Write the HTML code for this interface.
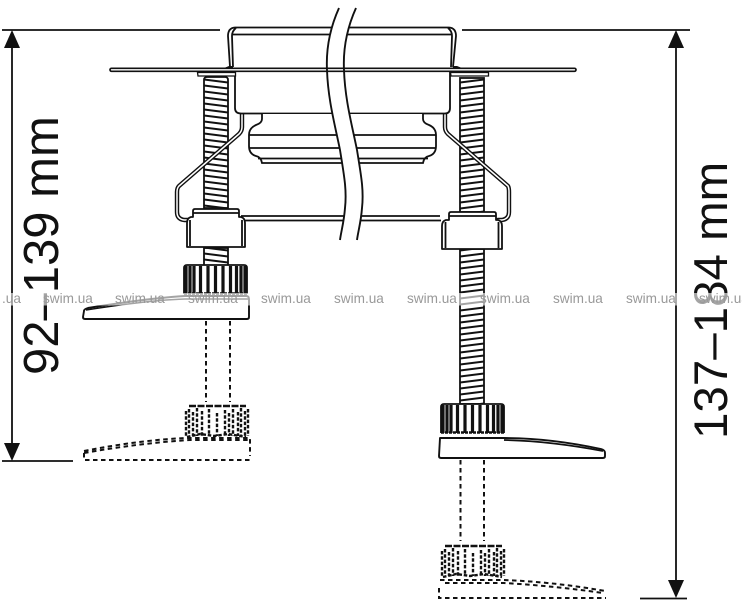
<!DOCTYPE html>
<html><head><meta charset="utf-8"><style>
html,body{margin:0;padding:0;background:#fff;width:742px;height:600px;overflow:hidden}
svg{display:block}
text{font-family:"Liberation Sans",sans-serif}
</style></head><body>
<svg width="742" height="600" viewBox="0 0 742 600" xmlns="http://www.w3.org/2000/svg">
<defs>
<pattern id="tL" patternUnits="userSpaceOnUse" x="204" y="0" width="24" height="6"><path d="M0 1.500L24 4.500" stroke="#111" stroke-width="2"/></pattern>
<pattern id="tR" patternUnits="userSpaceOnUse" x="460" y="0" width="24" height="6"><path d="M0 4.500L24 1.500" stroke="#111" stroke-width="2"/></pattern>
<g id="knob">
<path d="M0 29V3Q0 0 3 0H60Q63 0 63 3V29" fill="#fff" stroke="#111" stroke-width="1.800"/>
<path d="M2 1V29M6 1V29M10 1V29M16.500 1V29M24 1V29M31.500 1V29M39 1V29M46.500 1V29M52.500 1V29M57 1V29M61 1V29" stroke="#111" stroke-width="3.200"/>
<path d="M0 28.500H63" stroke="#111" stroke-width="2.400" stroke-dasharray="3 1"/>
</g>
<g id="dknob" fill="none" stroke="#111" stroke-width="2.400" stroke-dasharray="3.500 1.800">
<path d="M3 1H60" stroke-dasharray="7 1.500"/>
<path d="M0 6V31M3 4V31M7 7V31M11 3V31M16 6V31M23 4V31M31 8V31M39 5V31M43 8V31M47 4V31M52 7V31M55 3V31M59 6V31M62 4V31"/>
<path d="M1 32L14 29L28 31L42 29L60 32"/>
</g>
</defs>

<!-- dimension lines -->
<g stroke="#111" stroke-width="1.800" fill="none">
<path d="M2 30H220M462 30H690"/>
<path d="M2 461H73M640 598.500H687"/>
<path d="M12 40V452M676 40V590"/>
</g>
<g fill="#111">
<path d="M12 30L20 48H4Z"/><path d="M12 461L20 443H4Z"/>
<path d="M676 30L684 48H668Z"/><path d="M676 598L684 580H668Z"/>
</g>
<text transform="translate(58 375) rotate(-90)" font-size="49" fill="#111">92–139 mm</text>
<text transform="translate(727 439) rotate(-90)" font-size="47.500" fill="#111">137–184 mm</text>

<!-- rods -->
<path d="M204 80Q204 77 207 77H225Q228 77 228 80V208H204Z" fill="url(#tL)" stroke="#111" stroke-width="1.800"/>
<rect x="460" y="78" width="24" height="134" fill="url(#tR)" stroke="#111" stroke-width="1.800"/>
<rect x="204" y="248" width="24" height="18" fill="url(#tL)" stroke="#111" stroke-width="1.800"/>
<rect x="460" y="249" width="24" height="155" fill="url(#tR)" stroke="#111" stroke-width="1.800"/>

<!-- clips -->
<g fill="none" stroke-linejoin="round" stroke-linecap="round">
<path d="M242 114V127Q242 131 239 134L179 186Q177 188 177 192V212Q177 219 184 220H188" stroke="#111" stroke-width="4.400"/>
<path d="M242 114V127Q242 131 239 134L179 186Q177 188 177 192V212Q177 219 184 220H188" stroke="#fff" stroke-width="1.500"/>
<path d="M445 114V127Q445 131 448 134L508 186Q509 188 509 192V212Q509 219 502 220H498" stroke="#111" stroke-width="4.400"/>
<path d="M445 114V127Q445 131 448 134L508 186Q509 188 509 192V212Q509 219 502 220H498" stroke="#fff" stroke-width="1.500"/>
</g>

<!-- cup -->
<g fill="none" stroke="#111" stroke-width="1.800">
<path d="M230 67L228 36Q228 28 235 27.500H449Q456 28 456 36L453 67" fill="#fff"/>
<path d="M233 67L232 36Q232 31 236 28M451 67L452 36Q452 31 448 28"/>
<path d="M233 34.500H451"/>
<path d="M235 72V108Q235 113.500 241 113.500H445Q450 113.500 450 108V72" fill="#fff"/>
<path d="M262 114V119Q262 123 256 125Q249 128 249 135V146Q249 154 256 156Q261 157 262 163H423Q424 157 429 156Q436 154 436 146V135Q436 128 429 125Q423 123 423 119V114" fill="#fff"/>
<path d="M249 135H436M249 148H436M258 158.500H428"/>
</g>

<!-- cross bar -->
<path d="M241 216H440M241 220.500H441" stroke="#111" stroke-width="1.700" fill="none"/>

<!-- wave cut: blank between the waves -->
<path d="M339 8C330 28 326 50 327 70C328 100 335 125 340 150C344 175 347 190 345 208C344 222 341 232 340 240H357C358 232 361 222 362 208C364 190 361 175 357 150C352 125 345 100 344 70C343 50 347 28 356 8Z" fill="#fff"/>

<!-- flange -->
<rect x="110" y="68.300" width="466" height="3" rx="1.500" fill="#fff" stroke="#111" stroke-width="1.700"/>
<path d="M197.500 72.500H235.500V76H198Z" fill="#fff" stroke="#111" stroke-width="1.300"/>
<path d="M450.500 72.500H488.500V76H451Z" fill="#fff" stroke="#111" stroke-width="1.300"/>
<path d="M224 68L229 66H233V68ZM462 68L457 66H453V68Z" fill="#111"/>

<!-- waves -->
<g fill="none" stroke="#111" stroke-width="1.900">
<path d="M339 8C330 28 326 50 327 70C328 100 335 125 340 150C344 175 347 190 345 208C344 222 341 232 340 240"/>
<path d="M356 8C347 28 343 50 344 70C345 100 352 125 357 150C361 175 364 190 362 208C361 222 358 232 357 240"/>
</g>

<!-- nuts -->
<g fill="#fff" stroke="#111" stroke-width="1.800" stroke-linejoin="round">
<path d="M187 247V223Q187 218 191 217H193V211Q193 209 195 209H237Q239 209 239 211V217H241Q245 218 245 223V247Z"/>
<path d="M190 246V220M242 246V220M193 213H239" fill="none"/>
<path d="M442 249V226Q442 221 446 220H449V214Q449 212 451 212H494Q496 212 496 214V220H498Q502 221 502 226V249Z"/>
<path d="M445.500 248V222M498.500 248V222M449 216H496" fill="none"/>
</g>

<!-- left knob + foot -->
<use href="#knob" x="184" y="265"/>
<path d="M84 311Q84 309 88 308Q150 298 185 296H246Q249 296 249 299V317Q249 319 247 319H85Q83 319 83 317Z" fill="#fff" stroke="#111" stroke-width="1.900" stroke-linejoin="round"/>
<path d="M86 310Q150 300 185 299H248" fill="none" stroke="#111" stroke-width="1.500"/>

<!-- right knob + foot -->
<use href="#knob" x="441" y="404"/>
<path d="M440 438H504Q550 438 601 449Q605 450 605 453V456Q605 458 603 458H441Q439 458 439 456Z" fill="#fff" stroke="#111" stroke-width="1.900" stroke-linejoin="round"/>
<path d="M504 440Q550 441 603 451" fill="none" stroke="#111" stroke-width="1.800"/>

<!-- dashed parts -->
<g fill="none" stroke="#111" stroke-width="2" stroke-dasharray="4.500 3.500">
<path d="M206 321V402M230 321V402"/>
<path d="M84 451Q140 440 186 438H250V456M84 453Q140 443 190 440H248"/>
<path d="M84 453V460H251"/>
<path d="M460.500 460V541M484 460V541"/>
<path d="M440 580H504Q555 582 605 591M445 583H504Q555 586 603 593"/>
<path d="M439 588V598H606"/>
</g>
<use href="#dknob" x="186" y="405"/>
<use href="#dknob" x="442" y="545"/>

<!-- watermark -->
<rect x="0" y="293" width="742" height="12.500" fill="#fff" opacity=".62"/>
<g font-size="13.600" fill="#999">
<text x="2" y="303">.ua</text>
<text x="43" y="303">swim.ua</text>
<text x="115" y="303">swim.ua</text>
<text x="188" y="303">swim.ua</text>
<text x="261" y="303">swim.ua</text>
<text x="334" y="303">swim.ua</text>
<text x="407" y="303">swim.ua</text>
<text x="480" y="303">swim.ua</text>
<text x="553" y="303">swim.ua</text>
<text x="626" y="303">swim.ua</text>
<text x="699" y="303">swim.ua</text>
</g>
</svg>
</body></html>
